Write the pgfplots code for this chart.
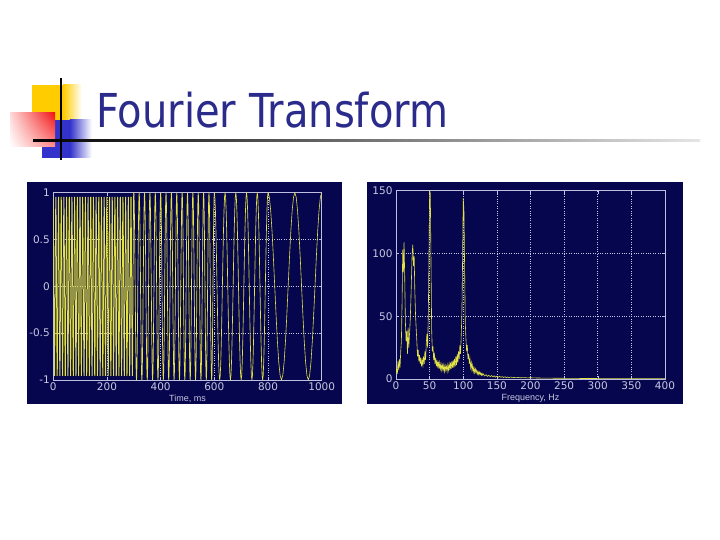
\documentclass[border=0pt]{standalone}
\usepackage{fontspec}
\setmainfont{DejaVu Sans}
\newfontfamily\lib{Liberation Sans}
\usepackage{pgfplots}
\pgfplotsset{compat=1.18}
\usetikzlibrary{shadings}
\definecolor{navy}{RGB}{6,6,78}
\definecolor{framec}{RGB}{190,190,225}
\definecolor{gridc}{RGB}{200,200,230}
\definecolor{tickc}{RGB}{200,200,225}
\definecolor{trace}{RGB}{225,225,70}
\definecolor{titlec}{RGB}{43,43,140}
\definecolor{gold}{RGB}{255,204,0}
\definecolor{bluesq}{RGB}{51,51,204}
\definecolor{redsq}{RGB}{240,20,20}
\pgfplotsset{
  mat/.style={
    scale only axis, anchor=south west,
    axis line style={draw=framec, line width=0.6pt},
    tick style={draw=framec, line width=0.5pt},
    major tick length=3pt, tick align=inside,
    grid=major, major grid style={draw=gridc, dotted, line width=0.6pt},
    tick label style={font=\fontsize{10.5}{12}\selectfont, text=tickc},
    xticklabel style={anchor=base, yshift=-11pt, inner sep=0pt},
    xlabel style={font=\lib\fontsize{9}{10}\selectfont, text=tickc, inner sep=0pt, at={(axis description cs:0.5,0)}, anchor=base, yshift=-22pt},
  }
}
\begin{document}
\begin{tikzpicture}
\useasboundingbox (0pt,0pt) rectangle (720pt,540pt);
% decoration
\fill[gold] (31.7pt,420pt) rectangle (63.3pt,455pt);
\shade[left color=gold, right color=white] (63.2pt,420pt) rectangle (81.7pt,455pt);
\fill[bluesq] (41.7pt,382pt) rectangle (70pt,420pt);
\shade[left color=bluesq, right color=white] (69.9pt,382pt) rectangle (91.7pt,420pt);
\shade[shading=bilinear interpolation, upper left=red!15, upper right=redsq, lower left=white, lower right=red!45] (10pt,393pt) rectangle (55pt,427pt);
\shade[left color=black, right color=black!10] (33pt,398pt) rectangle (700pt,400.2pt);
\fill[black] (59.8pt,380pt) rectangle (62.3pt,462pt);
\node[anchor=base west, inner sep=0pt, text=titlec] at (96pt,412.7pt) {\resizebox{352pt}{35.5pt}{Fourier Transform}};
% panels
\fill[navy] (26.7pt,135.5pt) rectangle (341.7pt,358.3pt);
\fill[navy] (366.7pt,135.5pt) rectangle (683pt,358.3pt);
\begin{axis}[mat, at={(53.3pt,160pt)}, width=268.4pt, height=187.3pt,
  xmin=0, xmax=1000, ymin=-1, ymax=1,
  xtick={0,200,400,600,800,1000}, xticklabels={0,200,400,600,800,1000},
  ytick={-1,-0.5,0,0.5,1}, yticklabels={-1,-0.5,0,0.5,1},
  xlabel={Time, ms}]
\addplot[trace, line width=0.75pt] table[row sep=\\, header=false, x expr=\coordindex, y index=0] {
0.951\\0.588\\0\\-0.588\\-0.951\\-0.951\\-0.588\\0\\0.588\\0.951\\0.951\\0.588\\0\\-0.588\\-0.951\\-0.951\\-0.588\\0\\0.588\\0.951\\0.951\\0.588\\0\\-0.588\\-0.951\\-0.951\\-0.588\\0\\0.588\\0.951\\
0.951\\0.588\\0\\-0.588\\-0.951\\-0.951\\-0.588\\0\\0.588\\0.951\\0.951\\0.588\\0\\-0.588\\-0.951\\-0.951\\-0.588\\0\\0.588\\0.951\\0.951\\0.588\\0\\-0.588\\-0.951\\-0.951\\-0.588\\0\\0.588\\0.951\\
0.951\\0.588\\0\\-0.588\\-0.951\\-0.951\\-0.588\\0\\0.588\\0.951\\0.951\\0.588\\0\\-0.588\\-0.951\\-0.951\\-0.588\\0\\0.588\\0.951\\0.951\\0.588\\0\\-0.588\\-0.951\\-0.951\\-0.588\\0\\0.588\\0.951\\
0.951\\0.588\\0\\-0.588\\-0.951\\-0.951\\-0.588\\0\\0.588\\0.951\\0.951\\0.588\\0\\-0.588\\-0.951\\-0.951\\-0.588\\0\\0.588\\0.951\\0.951\\0.588\\0\\-0.588\\-0.951\\-0.951\\-0.588\\0\\0.588\\0.951\\
0.951\\0.588\\0\\-0.588\\-0.951\\-0.951\\-0.588\\0\\0.588\\0.951\\0.951\\0.588\\0\\-0.588\\-0.951\\-0.951\\-0.588\\0\\0.588\\0.951\\0.951\\0.588\\0\\-0.588\\-0.951\\-0.951\\-0.588\\0\\0.588\\0.951\\
0.951\\0.588\\0\\-0.588\\-0.951\\-0.951\\-0.588\\0\\0.588\\0.951\\0.951\\0.588\\0\\-0.588\\-0.951\\-0.951\\-0.588\\0\\0.588\\0.951\\0.951\\0.588\\0\\-0.588\\-0.951\\-0.951\\-0.588\\0\\0.588\\0.951\\
0.951\\0.588\\0\\-0.588\\-0.951\\-0.951\\-0.588\\0\\0.588\\0.951\\0.951\\0.588\\0\\-0.588\\-0.951\\-0.951\\-0.588\\0\\0.588\\0.951\\0.951\\0.588\\0\\-0.588\\-0.951\\-0.951\\-0.588\\0\\0.588\\0.951\\
0.951\\0.588\\0\\-0.588\\-0.951\\-0.951\\-0.588\\0\\0.588\\0.951\\0.951\\0.588\\0\\-0.588\\-0.951\\-0.951\\-0.588\\0\\0.588\\0.951\\0.951\\0.588\\0\\-0.588\\-0.951\\-0.951\\-0.588\\0\\0.588\\0.951\\
0.951\\0.588\\0\\-0.588\\-0.951\\-0.951\\-0.588\\0\\0.588\\0.951\\0.951\\0.588\\0\\-0.588\\-0.951\\-0.951\\-0.588\\0\\0.588\\0.951\\0.951\\0.588\\0\\-0.588\\-0.951\\-0.951\\-0.588\\0\\0.588\\0.951\\
0.951\\0.588\\0\\-0.588\\-0.951\\-0.951\\-0.588\\0\\0.588\\0.951\\0.951\\0.588\\0\\-0.588\\-0.951\\-0.951\\-0.588\\0\\0.588\\0.951\\0.951\\0.588\\0\\-0.588\\-0.951\\-0.951\\-0.588\\0\\0.588\\0.951\\
1\\
};
\addplot[trace, line width=0.7pt] table[row sep=\\, header=false, x expr=300+\coordindex, y index=0] {
1\\0.951\\0.809\\0.588\\0.309\\0\\-0.309\\-0.588\\-0.809\\-0.951\\-1\\-0.951\\-0.809\\-0.588\\-0.309\\0\\0.309\\0.588\\0.809\\0.951\\
1\\0.951\\0.809\\0.588\\0.309\\0\\-0.309\\-0.588\\-0.809\\-0.951\\-1\\-0.951\\-0.809\\-0.588\\-0.309\\0\\0.309\\0.588\\0.809\\0.951\\
1\\0.951\\0.809\\0.588\\0.309\\0\\-0.309\\-0.588\\-0.809\\-0.951\\-1\\-0.951\\-0.809\\-0.588\\-0.309\\0\\0.309\\0.588\\0.809\\0.951\\
1\\0.951\\0.809\\0.588\\0.309\\0\\-0.309\\-0.588\\-0.809\\-0.951\\-1\\-0.951\\-0.809\\-0.588\\-0.309\\0\\0.309\\0.588\\0.809\\0.951\\
1\\0.951\\0.809\\0.588\\0.309\\0\\-0.309\\-0.588\\-0.809\\-0.951\\-1\\-0.951\\-0.809\\-0.588\\-0.309\\0\\0.309\\0.588\\0.809\\0.951\\
1\\0.951\\0.809\\0.588\\0.309\\0\\-0.309\\-0.588\\-0.809\\-0.951\\-1\\-0.951\\-0.809\\-0.588\\-0.309\\0\\0.309\\0.588\\0.809\\0.951\\
1\\0.951\\0.809\\0.588\\0.309\\0\\-0.309\\-0.588\\-0.809\\-0.951\\-1\\-0.951\\-0.809\\-0.588\\-0.309\\0\\0.309\\0.588\\0.809\\0.951\\
1\\0.951\\0.809\\0.588\\0.309\\0\\-0.309\\-0.588\\-0.809\\-0.951\\-1\\-0.951\\-0.809\\-0.588\\-0.309\\0\\0.309\\0.588\\0.809\\0.951\\
1\\0.951\\0.809\\0.588\\0.309\\0\\-0.309\\-0.588\\-0.809\\-0.951\\-1\\-0.951\\-0.809\\-0.588\\-0.309\\0\\0.309\\0.588\\0.809\\0.951\\
1\\0.951\\0.809\\0.588\\0.309\\0\\-0.309\\-0.588\\-0.809\\-0.951\\-1\\-0.951\\-0.809\\-0.588\\-0.309\\0\\0.309\\0.588\\0.809\\0.951\\
1\\0.951\\0.809\\0.588\\0.309\\0\\-0.309\\-0.588\\-0.809\\-0.951\\-1\\-0.951\\-0.809\\-0.588\\-0.309\\0\\0.309\\0.588\\0.809\\0.951\\
1\\0.951\\0.809\\0.588\\0.309\\0\\-0.309\\-0.588\\-0.809\\-0.951\\-1\\-0.951\\-0.809\\-0.588\\-0.309\\0\\0.309\\0.588\\0.809\\0.951\\
1\\0.951\\0.809\\0.588\\0.309\\0\\-0.309\\-0.588\\-0.809\\-0.951\\-1\\-0.951\\-0.809\\-0.588\\-0.309\\0\\0.309\\0.588\\0.809\\0.951\\
1\\0.951\\0.809\\0.588\\0.309\\0\\-0.309\\-0.588\\-0.809\\-0.951\\-1\\-0.951\\-0.809\\-0.588\\-0.309\\0\\0.309\\0.588\\0.809\\0.951\\
1\\0.951\\0.809\\0.588\\0.309\\0\\-0.309\\-0.588\\-0.809\\-0.951\\-1\\-0.951\\-0.809\\-0.588\\-0.309\\0\\0.309\\0.588\\0.809\\0.951\\
1\\
};
\addplot[trace, line width=0.65pt] table[row sep=\\, header=false, x expr=600+2*\coordindex, y index=0] {
1\\0.951\\0.809\\0.588\\0.309\\0\\-0.309\\-0.588\\-0.809\\-0.951\\-1\\-0.951\\-0.809\\-0.588\\-0.309\\0\\0.309\\0.588\\0.809\\0.951\\
1\\0.951\\0.809\\0.588\\0.309\\0\\-0.309\\-0.588\\-0.809\\-0.951\\-1\\-0.951\\-0.809\\-0.588\\-0.309\\0\\0.309\\0.588\\0.809\\0.951\\
1\\0.951\\0.809\\0.588\\0.309\\0\\-0.309\\-0.588\\-0.809\\-0.951\\-1\\-0.951\\-0.809\\-0.588\\-0.309\\0\\0.309\\0.588\\0.809\\0.951\\
1\\0.951\\0.809\\0.588\\0.309\\0\\-0.309\\-0.588\\-0.809\\-0.951\\-1\\-0.951\\-0.809\\-0.588\\-0.309\\0\\0.309\\0.588\\0.809\\0.951\\
1\\0.951\\0.809\\0.588\\0.309\\0\\-0.309\\-0.588\\-0.809\\-0.951\\-1\\-0.951\\-0.809\\-0.588\\-0.309\\0\\0.309\\0.588\\0.809\\0.951\\
1\\
};
\addplot[trace, line width=0.6pt] table[row sep=\\, header=false, x expr=800+5*\coordindex, y index=0] {
1\\0.951\\0.809\\0.588\\0.309\\0\\-0.309\\-0.588\\-0.809\\-0.951\\-1\\-0.951\\-0.809\\-0.588\\-0.309\\0\\0.309\\0.588\\0.809\\0.951\\
1\\0.951\\0.809\\0.588\\0.309\\0\\-0.309\\-0.588\\-0.809\\-0.951\\-1\\-0.951\\-0.809\\-0.588\\-0.309\\0\\0.309\\0.588\\0.809\\0.951\\
1\\
};
\end{axis}
\begin{axis}[mat, at={(396pt,161pt)}, width=269pt, height=188.3pt,
  xmin=0, xmax=400, ymin=0, ymax=150,
  xtick={0,50,...,400}, xticklabels={0,50,100,150,200,250,300,350,400},
  ytick={0,50,100,150}, yticklabels={0,50,100,150},
  xlabel={Frequency, Hz}]
\addplot[trace, line width=0.6pt] table[row sep=\\, header=false, x index=0, y index=1] {
0 5\\1 8\\2 4\\3 14\\4 7\\5 16\\6 9\\7 22\\8 30\\9 60\\10 103\\11 85\\12 109\\13 80\\14 45\\15 30\\16 38\\17 20\\18 41\\19 25\\
20 35\\21 45\\22 60\\23 80\\24 100\\25 107\\26 90\\27 98\\28 70\\29 52\\30 40\\31 30\\32 18\\33 23\\34 14\\35 19\\36 12\\37 17\\38 10\\39 15\\
40 11\\41 18\\42 12\\43 22\\44 15\\45 28\\46 36\\47 25\\48 50\\49 95\\50 150\\51 148\\52 95\\53 40\\54 22\\55 26\\56 15\\57 21\\58 12\\59 17\\
60 10\\61 15\\62 9\\63 14\\64 8\\65 13\\66 8\\67 12\\68 7\\69 11\\70 7\\71 11\\72 6\\73 11\\74 7\\75 10\\76 6\\77 11\\78 7\\79 12\\
80 7\\81 13\\82 8\\83 14\\84 9\\85 15\\86 9\\87 16\\88 10\\89 18\\90 11\\91 20\\92 13\\93 22\\94 16\\95 27\\96 20\\97 35\\98 52\\99 95\\
100 144\\101 135\\102 90\\103 45\\104 32\\105 22\\106 27\\107 16\\108 20\\109 12\\110 16\\111 9\\112 13\\113 7\\114 11\\115 6\\116 9\\117 5\\118 8\\119 5\\
120 7\\121 4\\122 6\\123 3.5\\124 5.5\\125 3.5\\126 5\\127 3\\128 4.5\\129 3\\130 4\\132 2.4\\134 3.4\\136 2.1\\138 3\\140 1.9\\142 2.7\\144 1.7\\146 2.5\\148 1.5\\
150 2.3\\152 1.4\\154 2.1\\156 1.3\\158 1.9\\160 1.2\\162 1.8\\164 1.1\\166 1.6\\168 1\\170 1.5\\175 1.2\\180 1.3\\185 1\\190 1.1\\195 0.9\\200 1\\
210 0.8\\220 0.7\\230 0.65\\240 0.6\\250 0.55\\260 0.5\\270 0.45\\280 0.4\\290 0.38\\300 0.35\\320 0.3\\340 0.28\\360 0.25\\380 0.22\\400 0.2\\
};
\end{axis}
\end{tikzpicture}
\end{document}
